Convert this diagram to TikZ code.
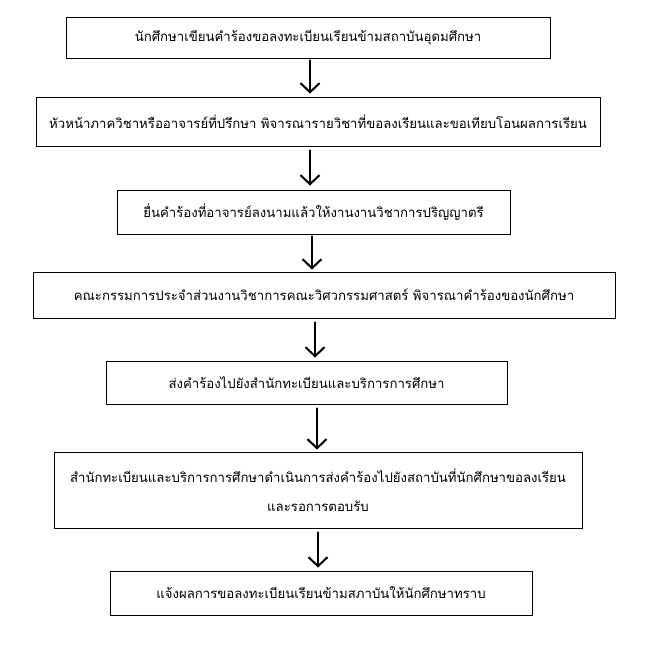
\documentclass[tikz,border=0pt]{standalone}
\usepackage{fontspec}
\newfontfamily\thaifont[Script=Thai]{Loma}
\usetikzlibrary{arrows.meta,calc}
\begin{document}
\begin{tikzpicture}[x=1pt,y=-1pt,
  stepbox/.style={draw=black,line width=0.9pt,inner sep=0pt,font=\thaifont\fontsize{13.2}{16}\selectfont,align=center},
  arr/.style={line width=2.4pt,line cap=round,-{Straight Barb[length=9pt,width=19pt,line width=2pt]}}]
\useasboundingbox (0,0) rectangle (662,657);
\fill[white] (0,0) rectangle (662,657);
\node[stepbox,minimum width=484pt,minimum height=41pt] (b1) at (308,37.5) {นักศึกษาเขียนคำร้องขอลงทะเบียนเรียนข้ามสถาบันอุดมศึกษา};
\node[stepbox,minimum width=564pt,minimum height=49pt] (b2) at (318,121.5) {หัวหน้าภาควิชาหรืออาจารย์ที่ปรึกษา พิจารณารายวิชาที่ขอลงเรียนและขอเทียบโอนผลการเรียน};
\node[stepbox,minimum width=393pt,minimum height=44pt] (b3) at (313.5,212) {ยื่นคำร้องที่อาจารย์ลงนามแล้วให้งานงานวิชาการปริญญาตรี};
\node[stepbox,minimum width=582pt,minimum height=46pt] (b4) at (324,295) {คณะกรรมการประจำส่วนงานวิชาการคณะวิศวกรรมศาสตร์ พิจารณาคำร้องของนักศึกษา};
\node[stepbox,minimum width=401pt,minimum height=43pt] (b5) at (306.5,382.5) {ส่งคำร้องไปยังสำนักทะเบียนและบริการการศึกษา};
\node[stepbox,minimum width=528pt,minimum height=76pt] (b6) at (318,490) {สำนักทะเบียนและบริการการศึกษาดำเนินการส่งคำร้องไปยังสถาบันที่นักศึกษาขอลงเรียน\\[13pt]และรอการตอบรับ};
\node[stepbox,minimum width=422pt,minimum height=44pt] (b7) at (321,593) {แจ้งผลการขอลงทะเบียนเรียนข้ามสภาบันให้นักศึกษาทราบ};
\draw[arr,shorten <=2pt,shorten >=3pt] (310,0 |- b1.south) -- (310,0 |- b2.north);
\draw[arr,shorten <=4pt,shorten >=4pt] (310,0 |- b2.south) -- (310,0 |- b3.north);
\draw[arr,shorten <=2pt,shorten >=2pt] (312,0 |- b3.south) -- (312,0 |- b4.north);
\draw[arr,shorten <=4pt,shorten >=3pt] (315,0 |- b4.south) -- (315,0 |- b5.north);
\draw[arr,shorten <=4pt,shorten >=2pt] (317,0 |- b5.south) -- (317,0 |- b6.north);
\draw[arr,shorten <=4pt,shorten >=3pt] (318,0 |- b6.south) -- (318,0 |- b7.north);
\end{tikzpicture}
\end{document}
